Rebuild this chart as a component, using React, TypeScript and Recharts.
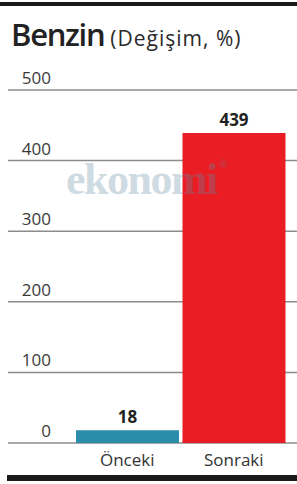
import { BarChart, Bar, XAxis, YAxis, CartesianGrid, Cell, LabelList } from 'recharts';

const categories = ['Önceki', 'Sonraki'];
const values = [18, 439];
const barColors = ['#2a8eab', '#ea1d25'];
const yTicks = [0, 100, 200, 300, 400, 500];

const data = categories.map((name, i) => ({ name, value: values[i] }));

const FONT = '"Open Sans", "Noto Sans", sans-serif';

const YTick = (props: any) => {
  const { x, y, payload } = props;
  return (
    <text x={x + 49} y={y - 6} textAnchor="end" fontSize={17} fontFamily={FONT} fill="#3a3a3a">
      {payload.value}
    </text>
  );
};

const XTick = (props: any) => {
  const { x, y, payload } = props;
  return (
    <text x={x} y={y + 15} textAnchor="middle" fontSize={17} fontFamily={FONT} fill="#333">
      {payload.value}
    </text>
  );
};

const App = () => {
  return (
    <div style={{ position: 'absolute', left: 0, top: 0, width: 297, height: 484, background: '#fff', fontFamily: FONT }}>
      <div style={{ position: 'absolute', left: 0, top: 2, width: 297, height: 4, background: '#1a1a1a' }} />
      <div style={{ position: 'absolute', left: 11, top: 19, whiteSpace: 'nowrap', color: '#222', lineHeight: 1 }}>
        <span style={{ fontSize: 31, fontWeight: 600, letterSpacing: -1.3 }}>Benzin</span>
        <span style={{ fontSize: 21, marginLeft: 6, letterSpacing: 1, color: '#2a2a2a' }}>(Değişim, %)</span>
      </div>
      <BarChart
        width={297}
        height={484}
        data={data}
        margin={{ top: 90, right: 0, bottom: 11, left: 0 }}
        barCategoryGap={2}
      >
        <CartesianGrid vertical={false} stroke="#8c8c8c" strokeWidth={1.5} />
        <XAxis
          dataKey="name"
          axisLine={false}
          tickLine={false}
          height={30}
          padding={{ left: 66, right: 10 }}
          tick={<XTick />}
          interval={0}
        />
        <YAxis
          width={8}
          domain={[0, 500]}
          ticks={yTicks}
          axisLine={false}
          tickLine={false}
          tickMargin={0}
          tick={<YTick />}
        />
        <Bar dataKey="value" isAnimationActive={false}>
          {data.map((d, i) => (
            <Cell key={d.name} fill={barColors[i]} />
          ))}
          <LabelList dataKey="value" position="top" offset={7} fontSize={17} fontWeight={700} fontFamily={FONT} fill="#222" />
        </Bar>
      </BarChart>
      <div
        style={{
          position: 'absolute',
          left: 66,
          top: 158,
          fontFamily: '"Liberation Serif", serif',
          fontWeight: 700,
          fontSize: 44,
          color: '#5f8aa3',
          opacity: 0.3,
          letterSpacing: -1.5,
          pointerEvents: 'none',
          lineHeight: 1,
          whiteSpace: 'nowrap',
        }}
      >
        ekonomi<span style={{ fontSize: 12, verticalAlign: 'top', marginLeft: 2 }}>®</span>
      </div>
      <div style={{ position: 'absolute', left: 7, top: 475, width: 290, height: 6, background: '#1a1a1a' }} />
    </div>
  );
};

export default App;
